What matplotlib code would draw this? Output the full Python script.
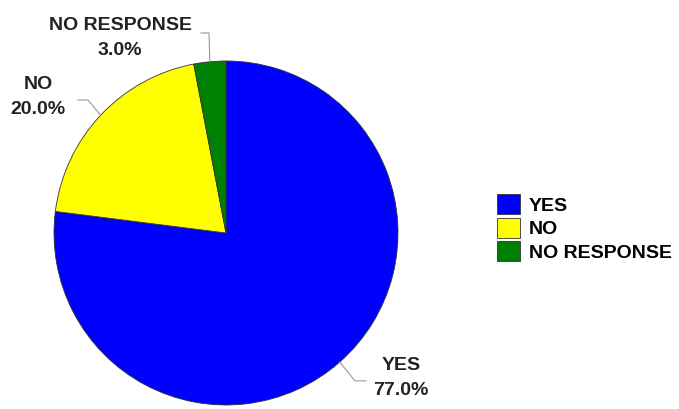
import matplotlib.pyplot as plt
import numpy as np

labels = ["YES", "NO", "NO RESPONSE"]
values = [77.0, 20.0, 3.0]
colors = ["#0000FF", "#FFFF00", "#008000"]

plt.rcParams['font.family'] = ['Liberation Sans', 'DejaVu Sans']

fig = plt.figure(figsize=(6.79, 4.09), dpi=100)
ax = fig.add_axes([54 / 679, 4 / 409, 344 / 679, 344 / 409])

wedges, _ = ax.pie(values, colors=colors, startangle=90, counterclock=False,
                   wedgeprops=dict(edgecolor="#333333", linewidth=0.6))
ax.set_aspect("equal")
ax.set_xlim(-1, 1)
ax.set_ylim(-1, 1)

# leader lines: wedge edge -> elbow -> end, then label position
leaders = [
    ((0.750, -0.860), (0.814, -0.860), (1.017, -0.845)),
    ((-0.802, 0.773), (-0.860, 0.773), (-1.093, 0.791)),
    ((-0.099, 1.163), (-0.145, 1.163), (-0.616, 1.134)),
]
for w, lab, val, (elbow, end, txt) in zip(wedges, labels, values, leaders):
    ang = np.deg2rad((w.theta1 + w.theta2) / 2)
    x0, y0 = np.cos(ang), np.sin(ang)
    ax.plot([x0, elbow[0], end[0]], [y0, elbow[1], end[1]], color="#999999",
            lw=0.8, clip_on=False)
    ax.text(txt[0], txt[1], f"{lab}\n{val:.1f}%", ha="center", va="center",
            fontsize=14, fontweight="bold", color="#222222",
            linespacing=1.6, clip_on=False)

fig.legend(wedges, labels, loc="center left", bbox_to_anchor=(479 / 679, 1 - 228 / 409),
           frameon=False, prop=dict(weight="bold", size=14),
           handlelength=1.2, handleheight=1.2, handletextpad=0.45, labelspacing=0.15)

fig.savefig("out.png", dpi=100)
